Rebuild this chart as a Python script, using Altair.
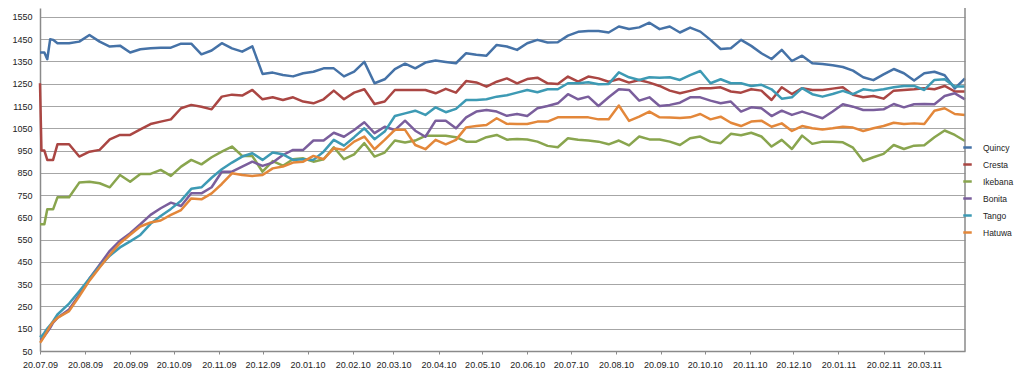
import altair as alt
import pandas as pd

dates = [
    "2009-07-20", "2009-07-21", "2009-07-23", "2009-07-25", "2009-07-27", "2009-07-29", "2009-08-01",
    "2009-08-09", "2009-08-16", "2009-08-23", "2009-08-30", "2009-09-06", "2009-09-13", "2009-09-20",
    "2009-09-27", "2009-10-04", "2009-10-11", "2009-10-18", "2009-10-25", "2009-11-01", "2009-11-08",
    "2009-11-15", "2009-11-22", "2009-11-29", "2009-12-06", "2009-12-13",
    "2009-12-20", "2009-12-27", "2010-01-03", "2010-01-10", "2010-01-17", "2010-01-24", "2010-01-31",
    "2010-02-07", "2010-02-14", "2010-02-21", "2010-02-28", "2010-03-07", "2010-03-14", "2010-03-21",
    "2010-03-28", "2010-04-04", "2010-04-11", "2010-04-18", "2010-04-25", "2010-05-02", "2010-05-09",
    "2010-05-16", "2010-05-23", "2010-05-30", "2010-06-06",
    "2010-06-13", "2010-06-20", "2010-06-27", "2010-07-04", "2010-07-11", "2010-07-18", "2010-07-25",
    "2010-08-01", "2010-08-08", "2010-08-15", "2010-08-22", "2010-08-29", "2010-09-05", "2010-09-12",
    "2010-09-19", "2010-09-26", "2010-10-03", "2010-10-10", "2010-10-17", "2010-10-24", "2010-10-31",
    "2010-11-07", "2010-11-14", "2010-11-21",
    "2010-11-28", "2010-12-05", "2010-12-12", "2010-12-19", "2010-12-26", "2011-01-02", "2011-01-09",
    "2011-01-16", "2011-01-23", "2011-01-30", "2011-02-06", "2011-02-13", "2011-02-20", "2011-02-27",
    "2011-03-06", "2011-03-13", "2011-03-20", "2011-03-27", "2011-04-03", "2011-04-10", "2011-04-17",
]

quincy = [
    1390, 1390, 1390, 1360, 1450, 1447, 1432,
    1432, 1439, 1469, 1439, 1417, 1421, 1390, 1405, 1409, 1412, 1412, 1430, 1430, 1382, 1399, 1432, 1409, 1394, 1418,
    1294, 1300, 1289, 1283, 1297, 1304, 1319, 1319, 1283, 1304, 1348, 1252, 1270, 1316, 1340, 1319, 1345, 1354, 1348,
    1342, 1387, 1380, 1376, 1424, 1417,
    1402, 1432, 1447, 1435, 1436, 1466, 1483, 1487, 1487, 1480, 1507, 1496, 1503, 1524, 1495, 1507, 1480, 1502, 1484,
    1447, 1406, 1409, 1447, 1420,
    1387, 1361, 1402, 1352, 1376, 1342, 1339, 1333, 1325, 1309, 1279, 1266, 1292, 1316, 1297, 1264, 1297, 1304, 1288,
    1229, 1274,
]
cresta = [
    1252, 950, 950, 908, 908, 908, 978,
    978, 923, 945, 953, 1000, 1020, 1020, 1045, 1069, 1080, 1090, 1140, 1155, 1147, 1135, 1192, 1201, 1197, 1222,
    1180, 1189, 1177, 1189, 1170, 1162, 1180, 1219, 1180, 1210, 1225, 1159, 1170, 1222, 1222, 1222, 1222, 1207, 1227,
    1210, 1262, 1256, 1237, 1259, 1274,
    1252, 1271, 1277, 1252, 1249, 1282, 1259, 1282, 1274, 1259, 1271, 1255, 1267, 1255, 1240, 1219, 1207, 1218, 1230,
    1230, 1234, 1215, 1210, 1225,
    1219, 1177, 1234, 1204, 1230, 1222, 1222, 1228, 1234, 1200, 1189, 1195, 1183, 1219, 1222, 1225, 1230, 1225, 1240,
    1215, 1215,
]
ikebana = [
    619, 619, 619, 686, 686, 686, 740,
    740, 806, 810, 803, 785, 840, 810, 845, 845, 863, 836, 878, 908, 888, 920, 945, 968, 926, 925,
    855, 903, 882, 911, 915, 900, 911, 965, 911, 933, 983, 923, 941, 995, 986, 995, 1016, 1016, 1016,
    1010, 990, 990, 1010, 1020, 999,
    1002, 1000, 990, 971, 965, 1005, 998, 995, 990, 978, 995, 973, 1013, 1000, 1000, 990, 975, 1005, 1013,
    990, 983, 1025, 1019, 1030,
    1013, 968, 998, 957, 1017, 980, 990, 990, 987, 963, 903, 920, 935, 975, 957, 972, 974, 1010, 1040,
    1020, 993,
]
bonita = [
    102, 102, 117, 135, 154, 177, 199,
    236, 303, 375, 437, 500, 545, 579, 619, 661, 691, 716, 701, 758, 758, 785, 855, 855, 878, 900,
    881, 896, 930, 953, 953, 995, 995, 1030, 1012, 1042, 1077, 1028, 1057, 1042, 1084, 1039, 1012, 1084, 1084,
    1050, 1099, 1125, 1132, 1125, 1106,
    1114, 1105, 1140, 1150, 1162, 1203, 1180, 1192, 1150, 1189, 1225, 1222, 1174, 1189, 1150, 1155, 1165, 1189, 1189,
    1174, 1162, 1170, 1125, 1144,
    1140, 1105, 1129, 1110, 1125, 1110, 1095, 1125, 1158, 1147, 1132, 1132, 1135, 1159, 1144, 1158, 1159, 1158, 1195,
    1207, 1180,
]
tango = [
    120, 114, 132, 151, 166, 184, 214,
    263, 318, 375, 430, 478, 515, 542, 571, 621, 656, 688, 725, 778, 785, 828, 866, 896, 923, 938,
    908, 941, 933, 908, 911, 908, 945, 998, 972, 1010, 1050, 1001, 1035, 1105, 1117, 1129, 1110, 1144, 1122,
    1137, 1177, 1177, 1180, 1192, 1198,
    1210, 1222, 1212, 1225, 1225, 1252, 1252, 1257, 1248, 1249, 1301, 1279, 1267, 1279, 1277, 1279, 1267, 1289, 1307,
    1252, 1270, 1252, 1252, 1240,
    1245, 1225, 1183, 1189, 1230, 1203, 1192, 1204, 1218, 1203, 1225, 1219, 1225, 1234, 1240, 1240, 1222, 1267, 1270,
    1237, 1237,
]
hatuwa = [
    87, 95, 117, 139, 162, 180, 199,
    229, 296, 366, 425, 482, 534, 572, 609, 627, 636, 661, 683, 735, 731, 758, 800, 848, 840, 836,
    840, 870, 878, 896, 900, 926, 911, 960, 953, 990, 1013, 956, 998, 1043, 1043, 975, 956, 998, 978,
    998, 1054, 1060, 1065, 1095, 1070,
    1069, 1069, 1080, 1080, 1099, 1099, 1099, 1099, 1090, 1090, 1152, 1083, 1102, 1125, 1099, 1098, 1096, 1099, 1114,
    1090, 1102, 1075, 1060, 1080,
    1084, 1057, 1072, 1038, 1060, 1050, 1045, 1050, 1057, 1053, 1038, 1050, 1060, 1075, 1069, 1072, 1069, 1129, 1140,
    1114, 1110,
]

series_names = ["Quincy", "Cresta", "Ikebana", "Bonita", "Tango", "Hatuwa"]
series_values = [quincy, cresta, ikebana, bonita, tango, hatuwa]
series_colors = ["#4572A7", "#AA4643", "#89A54E", "#7A5E9C", "#3D9AB4", "#E3873A"]

y_ticks = [50, 150, 250, 350, 450, 550, 650, 750, 850, 950, 1050, 1150, 1250, 1350, 1450, 1550]
x_tick_dates = [
    "2009-07-20", "2009-08-20", "2009-09-20", "2009-10-20", "2009-11-20", "2009-12-20", "2010-01-20",
    "2010-02-20", "2010-03-20", "2010-04-20", "2010-05-20", "2010-06-20", "2010-07-20", "2010-08-20",
    "2010-09-20", "2010-10-20", "2010-11-20", "2010-12-20", "2011-01-20", "2011-02-20", "2011-03-20",
]

rows = []
for k, (name, vals) in enumerate(zip(series_names, series_values)):
    for d, v in zip(dates, vals):
        rows.append({"date": d, "series": name, "value": v, "k": k})
df = pd.DataFrame(rows)


def dt(s):
    y, m, d = (int(p) for p in s.split("-"))
    return alt.DateTime(year=y, month=m, date=d, utc=True)


FONT = "Liberation Sans"

x_scale = alt.Scale(type="utc", domain=[dt(dates[0]), dt(dates[-1])])
y_scale = alt.Scale(domain=[50, 1590], nice=False, zero=False)

lines = alt.Chart(df).mark_line(strokeWidth=2.5, strokeJoin="round").encode(
    x=alt.X(
        "date:T",
        scale=x_scale,
        title=None,
        axis=alt.Axis(
            values=[dt(s) for s in x_tick_dates],
            labelExpr="utcFormat(datum.value, '%d.%m.%y')",
            grid=False,
            domainColor="#8a8a8a",
            domainWidth=1.5,
            tickColor="#8a8a8a",
            tickSize=3,
            labelPadding=6,
            labelFont=FONT,
            labelFontSize=9,
            labelColor="#222222",
            labelFlush=False,
        ),
    ),
    y=alt.Y(
        "value:Q",
        scale=y_scale,
        title=None,
        axis=alt.Axis(
            values=y_ticks,
            format="d",
            grid=True,
            gridColor="#a6a6a6",
            gridWidth=1.2,
            domainColor="#8a8a8a",
            domainWidth=1.5,
            ticks=False,
            labelPadding=8,
            labelFont=FONT,
            labelFontSize=9,
            labelColor="#222222",
        ),
    ),
    color=alt.Color(
        "series:N",
        scale=alt.Scale(domain=series_names, range=series_colors),
        legend=alt.Legend(
            title=None,
            orient="none",
            legendX=922,
            legendY=134,
            symbolType="stroke",
            symbolSize=72,
            symbolStrokeWidth=2.5,
            labelFont=FONT,
            labelFontSize=8.5,
            labelColor="#222222",
            labelOffset=10,
            rowPadding=6,
            padding=0,
        ),
    ),
    order=alt.Order("k:Q"),
)

right_edge = alt.Chart(df).mark_rule(color="#8a8a8a", strokeWidth=1.5).encode(
    x=alt.X("max(date):T", scale=x_scale),
)

chart = (
    alt.layer(lines, right_edge)
    .properties(
        width=925,
        height=343,
        padding={"left": 32, "top": 0, "right": 51, "bottom": 20},
        autosize=alt.AutoSizeParams(type="none"),
        background="white",
    )
    .configure_view(stroke=None)
)

chart.save("out.html", embed_options={"renderer": "svg", "actions": False})
